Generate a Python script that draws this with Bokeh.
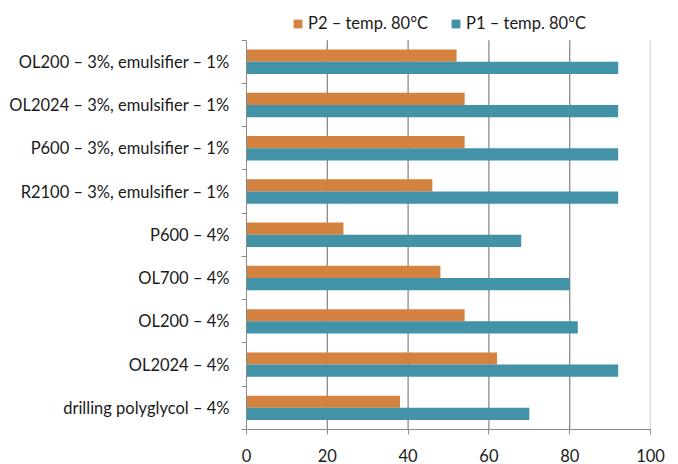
from bokeh.plotting import figure
from bokeh.models import ColumnDataSource, FixedTicker, Legend, LegendItem, Range1d
from bokeh.embed import file_html
from bokeh.resources import INLINE

categories = [
    "OL200 – 3%, emulsifier – 1%",
    "OL2024 – 3%, emulsifier – 1%",
    "P600 – 3%, emulsifier – 1%",
    "R2100 – 3%, emulsifier – 1%",
    "P600 – 4%",
    "OL700 – 4%",
    "OL200 – 4%",
    "OL2024 – 4%",
    "drilling polyglycol – 4%",
]
p2_values = [52, 54, 54, 46, 24, 48, 54, 62, 38]
p1_values = [92, 92, 92, 92, 68, 80, 82, 92, 70]
x_ticks = [0, 20, 40, 60, 80, 100]
series_names = ["P2 – temp. 80°C", "P1 – temp. 80°C"]

ORANGE = "#D4823F"
TEAL = "#4292A8"
FONT = "Lato"

n = len(categories)
centers = [n - 1 - i + 0.5 for i in range(n)]
bar_h = 0.283
src = ColumnDataSource(dict(
    y2=[c + bar_h / 2 for c in centers],
    y1=[c - bar_h / 2 for c in centers],
    p2=p2_values, p1=p1_values,
))

# frame covers the legend strip too; data area is 392px of the 432px frame
p = figure(width=678, height=464, output_backend="svg", toolbar_location=None,
           x_range=Range1d(0, 100), y_range=Range1d(0, n * 432 / 392),
           min_border_left=246, min_border_right=28, min_border_top=0, min_border_bottom=32)
p.outline_line_color = None
p.background_fill_color = "white"
p.border_fill_color = "white"
p.xgrid.grid_line_color = None
p.ygrid.grid_line_color = None

# vertical grid lines limited to the data area
grid_x = x_ticks[1:]
p.segment(x0=grid_x[:-1], x1=grid_x[:-1], y0=0, y1=n, line_color="#8a8a8a", line_width=1.3)
p.segment(x0=grid_x[-1:], x1=grid_x[-1:], y0=0, y1=n, line_color="#bdbdbd", line_width=1.5)

r2 = p.hbar(y="y2", right="p2", left=0, height=bar_h, source=src, fill_color=ORANGE, line_color=None)
r1 = p.hbar(y="y1", right="p1", left=0, height=bar_h, source=src, fill_color=TEAL, line_color=None)

# x axis
xa = p.xaxis[0]
xa.ticker = FixedTicker(ticks=x_ticks)
xa.axis_line_color = "#8a8a8a"
xa.major_tick_line_color = "#8a8a8a"
xa.major_tick_in = 0
xa.major_tick_out = 5
xa.minor_tick_line_color = None
xa.major_label_text_font = FONT
xa.major_label_text_font_size = "16.5px"
xa.major_label_text_color = "#1a1a1a"
xa.major_label_standoff = 14

# y axis
ya = p.yaxis[0]
ya.bounds = (0, n)
ya.ticker = FixedTicker(ticks=centers, minor_ticks=list(range(n + 1)))
ya.major_label_overrides = {c: categories[i] for i, c in enumerate(centers)}
ya.axis_line_color = "#8a8a8a"
ya.major_tick_line_color = None
ya.major_tick_in = 0
ya.major_tick_out = 0
ya.minor_tick_line_color = "#8a8a8a"
ya.minor_tick_in = 0
ya.minor_tick_out = 5
ya.major_label_text_font = FONT
ya.major_label_text_font_size = "16.5px"
ya.major_label_text_color = "#1a1a1a"
ya.major_label_standoff = 12

legend = Legend(items=[LegendItem(label=series_names[0], renderers=[r2]),
                       LegendItem(label=series_names[1], renderers=[r1])],
                orientation="horizontal", location=(46, 396),
                glyph_width=11, glyph_height=11, label_text_font=FONT,
                label_text_font_size="16.5px", label_text_color="#1a1a1a",
                label_height=14,
                spacing=22, label_standoff=5, padding=0, margin=0,
                border_line_color=None, background_fill_alpha=0)
p.add_layout(legend, "center")

open("out.html", "w").write(file_html(p, INLINE))
